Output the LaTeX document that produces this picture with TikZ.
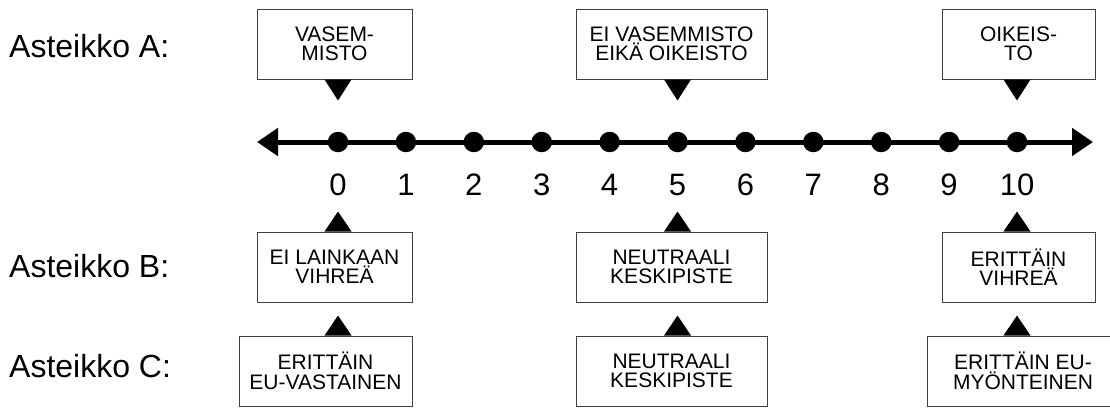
\documentclass[tikz,border=0pt]{standalone}
\usepackage{fontspec}
\setmainfont{Liberation Sans}
\usetikzlibrary{arrows.meta,calc}
\begin{document}
\begin{tikzpicture}[x=1pt,y=-1pt,
  box/.style={draw=black!75, line width=1pt, fill=white, minimum height=70pt, inner sep=0pt, align=center, font=\fontsize{21}{19.5}\selectfont},
  lbl/.style={anchor=base west, inner sep=0pt, font=\fontsize{32}{38}\selectfont},
  num/.style={anchor=base, inner sep=0pt, font=\fontsize{31}{37}\selectfont},
  dotnode/.style={circle, fill=black, minimum size=20.5pt, inner sep=0pt},
  ptr/.style={fill=black},
  axis/.style={line width=5pt, {Triangle[length=21pt,width=27pt]}-{Triangle[length=21pt,width=27pt]}}]
\useasboundingbox (0,0) rectangle (1110,407);
\clip (0,0) rectangle (1110,407);

% labels
\node[lbl] (la) at (9,57) {Asteikko A:};
\node[lbl] (lb) at (9,277) {Asteikko B:};
\node[lbl] (lc) at (9,377) {Asteikko C:};

% axis
\coordinate (L) at (257,142);
\coordinate (R) at (1093,142);
\draw[axis] (L) -- (R);
\foreach \i in {0,...,10} {
  \node[dotnode] (d\i) at ({338+67.9*\i},142) {};
  \node[num] (n\i) at ({338+67.9*\i},195) {\i};
}

% boxes A
\node[box, minimum width=155pt] (a1) at (334.5,44) {VASEM-\\MISTO};
\node[box, minimum width=191pt] (a2) at (671.5,44) {EI VASEMMISTO\\EIKÄ OIKEISTO};
\node[box, minimum width=153pt] (a3) at (1018.5,44) {OIKEIS-\\TO};

% boxes B
\node[box, minimum width=155pt] (b1) at (334.5,267) {EI LAINKAAN\\VIHREÄ};
\node[box, minimum width=191pt] (b2) at (671.5,267) {NEUTRAALI\\KESKIPISTE};
\node[box, minimum width=153pt] (b3) at (1018.5,267) {ERITTÄIN\\VIHREÄ};

% boxes C
\node[box, minimum width=173pt] (c1) at (325.5,371) {ERITTÄIN\\EU-VASTAINEN};
\node[box, minimum width=191pt] (c2) at (671.5,371) {NEUTRAALI\\KESKIPISTE};
\node[box, minimum width=192pt] (c3) at (1023,371) {ERITTÄIN EU-\\MYÖNTEINEN};

% pointers A (down)
\foreach \b/\d in {a1/d0,a2/d5,a3/d10} {
  \fill[ptr] ($(\d|-\b.south)+(-13.5,0)$) -- ($(\d|-\b.south)+(13.5,0)$) -- ($(\d|-\b.south)+(0,21)$) -- cycle;
}
% pointers B and C (up)
\foreach \b/\d in {b1/d0,b2/d5,b3/d10,c1/d0,c2/d5,c3/d10} {
  \fill[ptr] ($(\d|-\b.north)+(-13.5,0)$) -- ($(\d|-\b.north)+(13.5,0)$) -- ($(\d|-\b.north)+(0,-20)$) -- cycle;
}
\end{tikzpicture}
\end{document}
